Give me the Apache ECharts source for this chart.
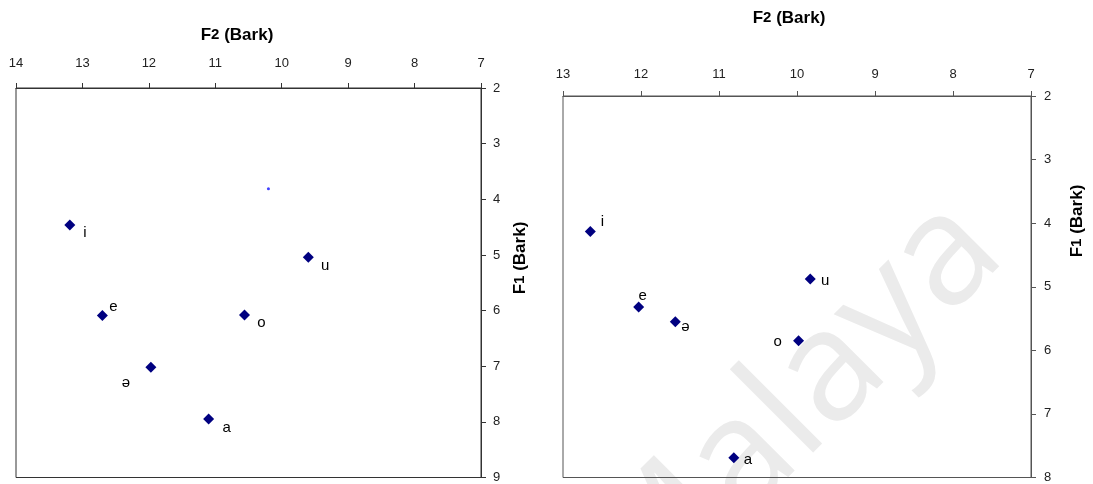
<!DOCTYPE html>
<html>
<head>
<meta charset="utf-8">
<script src="https://cdn.jsdelivr.net/npm/echarts@6/dist/echarts.min.js"></script>
<style>
  html, body { margin: 0; padding: 0; background: #fff; }
  #chart { width: 1093px; height: 484px; }
</style>
</head>
<body>
<div id="chart"></div>
<script>
// ---- data ----
const vowels = ['i', 'u', 'e', 'o', 'ə', 'a'];
const leftF2 = [13.19, 9.60, 12.70, 10.56, 11.97, 11.10];
const leftF1 = [4.46, 5.04, 6.09, 6.08, 7.02, 7.95];
const rightF2 = [12.65, 9.83, 12.03, 9.98, 11.56, 10.81];
const rightF1 = [4.13, 4.88, 5.32, 5.85, 5.55, 7.69];
const strayPoint = [10.20, 3.81];
const leftF2Range = [7, 14];
const leftF1Range = [2, 9];
const rightF2Range = [7, 13];
const rightF1Range = [2, 8];
const watermark = 'Malaya';

// ---- layout (label offsets from marker, px) ----
const leftLabelOffsets = [[15, 8], [17, 9], [11, -9], [17, 8], [-25, 16], [18, 9]];
const rightLabelOffsets = [[12, -10], [15, 2], [4, -11], [-21, 1], [10, 5], [14, 2]];

const FONT = '"Liberation Sans", Arial, "DejaVu Sans", sans-serif';

function makePoints(xs, ys, offsets) {
  return vowels.map((v, i) => ({
    value: [xs[i], ys[i]],
    name: v,
    label: { offset: offsets[i] }
  }));
}

function xAxisCfg(gi, range, margin, color) {
  return {
    gridIndex: gi, type: 'value', position: 'top', inverse: true,
    min: range[0], max: range[1], interval: 1,
    axisLine: { show: true, lineStyle: { color: color, width: 1 } },
    axisTick: { show: true, inside: false, length: 5, lineStyle: { color: color } },
    axisLabel: { margin: margin, fontSize: 13, color: '#222', fontFamily: FONT },
    splitLine: { show: false }
  };
}
function yAxisCfg(gi, range, margin, color) {
  return {
    gridIndex: gi, type: 'value', position: 'right', inverse: true,
    min: range[0], max: range[1], interval: 1,
    axisLine: { show: true, lineStyle: { color: color, width: 1 } },
    axisTick: { show: true, inside: false, length: 5, lineStyle: { color: color } },
    axisLabel: { margin: margin, fontSize: 13, color: '#222', fontFamily: FONT },
    splitLine: { show: false }
  };
}

const pointLabel = {
  show: true, position: 'inside', formatter: '{b}',
  fontSize: 15, color: '#000', fontFamily: FONT
};

function titleText(x, y, rot, digit) {
  return {
    type: 'text', x: x, y: y, rotation: rot, z: 10,
    style: {
      text: '{a|F}{b|' + digit + '}{a| (Bark)}',
      rich: {
        a: { fontSize: 17, fontWeight: 'bold', fontFamily: FONT, fill: '#000' },
        b: { fontSize: 15, fontWeight: 'bold', fontFamily: FONT, fill: '#000' }
      },
      align: 'center', verticalAlign: 'middle'
    }
  };
}

const chart = echarts.init(document.getElementById('chart'), null, { renderer: 'canvas' });
chart.setOption({
  backgroundColor: '#fff',
  animation: false,
  grid: [
    { left: 16, right: 612, top: 88, bottom: 6, show: true, borderColor: '#333', borderWidth: 1, backgroundColor: 'transparent' },
    { left: 563, right: 62, top: 96, bottom: 4, show: true, borderColor: '#555', borderWidth: 1, backgroundColor: 'transparent' }
  ],
  xAxis: [xAxisCfg(0, leftF2Range, 18, '#333'), xAxisCfg(1, rightF2Range, 15, '#555')],
  yAxis: [yAxisCfg(0, leftF1Range, 12, '#333'), yAxisCfg(1, rightF1Range, 13, '#555')],
  graphic: [
    {
      type: 'text', x: 795, y: 408, rotation: Math.PI / 4, z: -10, silent: true,
      style: {
        text: watermark, fontSize: 155, fontFamily: '"Open Sans", "Noto Sans", sans-serif',
        fill: '#ebebeb', align: 'center', verticalAlign: 'middle'
      }
    },
    titleText(237, 35, 0, '2'),
    titleText(789, 18, 0, '2'),
    titleText(520, 258, Math.PI / 2, '1'),
    titleText(1077, 221, Math.PI / 2, '1')
  ],
  series: [
    {
      type: 'scatter', xAxisIndex: 0, yAxisIndex: 0, z: 5,
      symbol: 'diamond', symbolSize: 11,
      itemStyle: { color: '#000080', opacity: 1 },
      label: pointLabel,
      data: makePoints(leftF2, leftF1, leftLabelOffsets)
    },
    {
      type: 'scatter', xAxisIndex: 0, yAxisIndex: 0, z: 5,
      symbol: 'circle', symbolSize: 3,
      itemStyle: { color: '#4040ff', opacity: 1 },
      data: [strayPoint]
    },
    {
      type: 'scatter', xAxisIndex: 1, yAxisIndex: 1, z: 5,
      symbol: 'diamond', symbolSize: 11,
      itemStyle: { color: '#000080', opacity: 1 },
      label: pointLabel,
      data: makePoints(rightF2, rightF1, rightLabelOffsets)
    }
  ]
});
</script>
</body>
</html>
